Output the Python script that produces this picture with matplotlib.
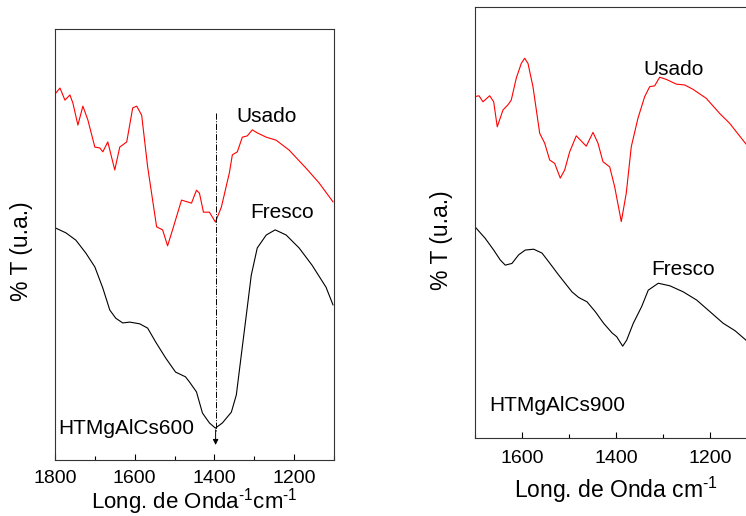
import matplotlib

matplotlib.use("Agg")

import matplotlib.pyplot as plt
from matplotlib.ticker import MultipleLocator

# --- HTMgAlCs600 (left panel) ---
wn_600_usado = [1800, 1787.5, 1775, 1762.5, 1755, 1742.5, 1730, 1717.5, 1700, 1687.5, 1680,
                1667.5, 1650, 1637.5, 1620, 1605, 1595, 1582.5, 1567.5, 1545, 1530, 1517.5,
                1505, 1482.5, 1457.5, 1445, 1437.5, 1427.5, 1412.5, 1397.5, 1382.5, 1362.5,
                1355, 1342.5, 1330, 1317.5, 1305, 1292.5, 1270, 1245, 1212.5, 1170, 1137.5, 1102.5]
t_600_usado = [84.9, 86.3, 83.5, 84.7, 82.8, 77.7, 82.1, 78.9, 72.6, 72.4, 71.5,
               73.8, 67.3, 72.6, 73.8, 81.7, 82.1, 80.0, 68.0, 54.1, 53.4, 49.7,
               53.4, 60.3, 59.6, 62.6, 61.9, 57.5, 57.5, 55.2, 58.7, 66.6,
               70.8, 71.5, 74.9, 75.2, 76.6, 75.9, 74.9, 74.2, 71.9, 67.7, 64.3, 59.9]

wn_600_fresco = [1798, 1772.5, 1747.5, 1722.5, 1700, 1680, 1662.5, 1647.5, 1630, 1612.5,
                 1587.5, 1567.5, 1547.5, 1522.5, 1497.5, 1472.5, 1462.5, 1445, 1430, 1412.5,
                 1397.5, 1380, 1357.5, 1345, 1332.5, 1320, 1307.5, 1292.5, 1270, 1247.5,
                 1220, 1187.5, 1155, 1120, 1102.5]
t_600_fresco = [53.8, 52.7, 51.0, 48.0, 44.8, 39.9, 34.8, 32.9, 31.8, 32.0,
                31.6, 30.6, 27.4, 23.7, 20.4, 19.3, 18.1, 15.8, 10.9, 8.6,
                7.4, 8.6, 11.1, 15.1, 24.4, 33.6, 42.9, 49.2, 52.2, 53.4,
                52.2, 49.2, 45.2, 40.1, 36.0]

# --- HTMgAlCs900 (right panel) ---
wn_900_usado = [1700, 1691.5, 1683, 1668.7, 1660.2, 1652.6, 1640.4, 1629.8, 1622.8, 1612.1,
                1601.5, 1594.3, 1587.2, 1576.6, 1562.3, 1551.7, 1541.1, 1530.4, 1518.5, 1509.1,
                1498.5, 1484.5, 1463.2, 1448.9, 1438.3, 1427.7, 1413.4, 1402.8, 1388.7, 1378.1,
                1367.4, 1353.2, 1338.9, 1328.3, 1317.7, 1307, 1293, 1271.7, 1253.8, 1236.2,
                1207.9, 1179.4, 1158.1, 1123.4, 1110]
t_900_usado = [79.2, 79.4, 78.0, 79.4, 78.0, 72.2, 76.1, 77.3, 78.4, 83.5,
               86.9, 88.1, 86.9, 81.5, 70.7, 68.4, 64.5, 63.7, 60.3, 62.2,
               66.4, 70.1, 67.7, 70.9, 68.4, 64.1, 62.9, 58.3, 50.2, 56.8,
               67.6, 74.2, 79.2, 81.5, 81.7, 83.7, 83.2, 82.1, 81.9, 80.9,
               78.8, 75.3, 73.0, 68.2, 66.6]

wn_900_fresco = [1700, 1678.1, 1660.2, 1646.2, 1635.5, 1621.3, 1607.0, 1593.0, 1575.1, 1557.4,
                 1543.2, 1521.9, 1493.6, 1479.4, 1461.7, 1444.0, 1426.2, 1408.5, 1398.5, 1385.7,
                 1377.2, 1363.2, 1345.3, 1331.3, 1310.0, 1285.1, 1256.8, 1228.3, 1200, 1171.7,
                 1146.8, 1123.4, 1110]
t_900_fresco = [49.0, 46.3, 43.6, 41.3, 40.1, 40.5, 42.5, 43.6, 43.8, 42.9,
                40.9, 37.8, 33.9, 32.6, 31.6, 29.3, 26.6, 24.4, 23.5, 21.3,
                22.7, 26.6, 30.5, 34.3, 35.9, 35.3, 33.9, 32.0, 29.3, 26.6,
                24.9, 22.7, 21.1]

# vertical marker at the carbonate band (left panel)
marker_wn = 1397
marker_top = 80.5
marker_bottom = 3.5

plt.rcParams.update(
    {
        "font.family": ["Liberation Sans", "DejaVu Sans"],
        "mathtext.fontset": "custom",
        "mathtext.rm": "Liberation Sans",
        "mathtext.it": "Liberation Sans:italic",
        "mathtext.bf": "Liberation Sans:bold",
        "font.size": 15,
    }
)

SUP = "$^{\\mathregular{\u2010}1}$"  # short hyphen superscript, as in the original

fig = plt.figure(figsize=(7.46, 5.16), dpi=100)
ax_l = fig.add_axes([0.0737, 0.1085, 0.374, 0.8353])
ax_r = fig.add_axes([0.6367, 0.1512, 0.378, 0.8353])

ax_l.plot(wn_600_usado, t_600_usado, color="#ff0000", linewidth=0.8)
ax_l.plot(wn_600_fresco, t_600_fresco, color="black", linewidth=0.8)
ax_l.plot([marker_wn, marker_wn], [marker_top, marker_bottom + 3], color="black",
          linestyle="-.", linewidth=0.7)
ax_l.annotate("", xy=(marker_wn, marker_bottom), xytext=(marker_wn, marker_bottom + 3.5),
              arrowprops=dict(arrowstyle="-|>", color="black", lw=0.7,
                              mutation_scale=8, shrinkA=0, shrinkB=0))
ax_l.text(1345, 79.8, "Usado", ha="left", va="center", fontsize=15)
ax_l.text(1310, 57.5, "Fresco", ha="left", va="center", fontsize=15)
ax_l.text(1792, 7.4, "HTMgAlCs600", ha="left", va="center", fontsize=15)
ax_l.set_xlim(1800, 1100)
ax_l.set_xlabel("Long. de Onda" + SUP + "cm" + SUP, fontsize=16, labelpad=-1)

ax_r.plot(wn_900_usado, t_900_usado, color="#ff0000", linewidth=0.8)
ax_r.plot(wn_900_fresco, t_900_fresco, color="black", linewidth=0.8)
ax_r.text(1341, 85.4, "Usado", ha="left", va="center", fontsize=15)
ax_r.text(1326, 39.1, "Fresco", ha="left", va="center", fontsize=15)
ax_r.text(1670, 7.5, "HTMgAlCs900", ha="left", va="center", fontsize=15)
ax_r.set_xlim(1700, 1100)
ax_r.set_xlabel("Long. de Onda cm" + SUP, fontsize=16.5, labelpad=5)

for ax, ylab_y, tick_pad in ((ax_l, 0.484, 7.5), (ax_r, 0.458, 9)):
    ax.set_ylim(0, 100)
    ax.set_yticks([])
    ax.set_ylabel("% T (u.a.)", fontsize=16.5)
    ax.yaxis.set_label_coords(-0.079, ylab_y)
    ax.xaxis.set_major_locator(MultipleLocator(200))
    ax.xaxis.set_minor_locator(MultipleLocator(100))
    ax.tick_params(axis="x", which="major", direction="in", length=4, width=0.8,
                   labelsize=14, pad=tick_pad)
    ax.tick_params(axis="x", which="minor", direction="in", length=3, width=0.8)
    for spine in ax.spines.values():
        spine.set_linewidth(0.8)
        spine.set_color("#333333")

fig.savefig("out.png", dpi=100)
plt.close(fig)
